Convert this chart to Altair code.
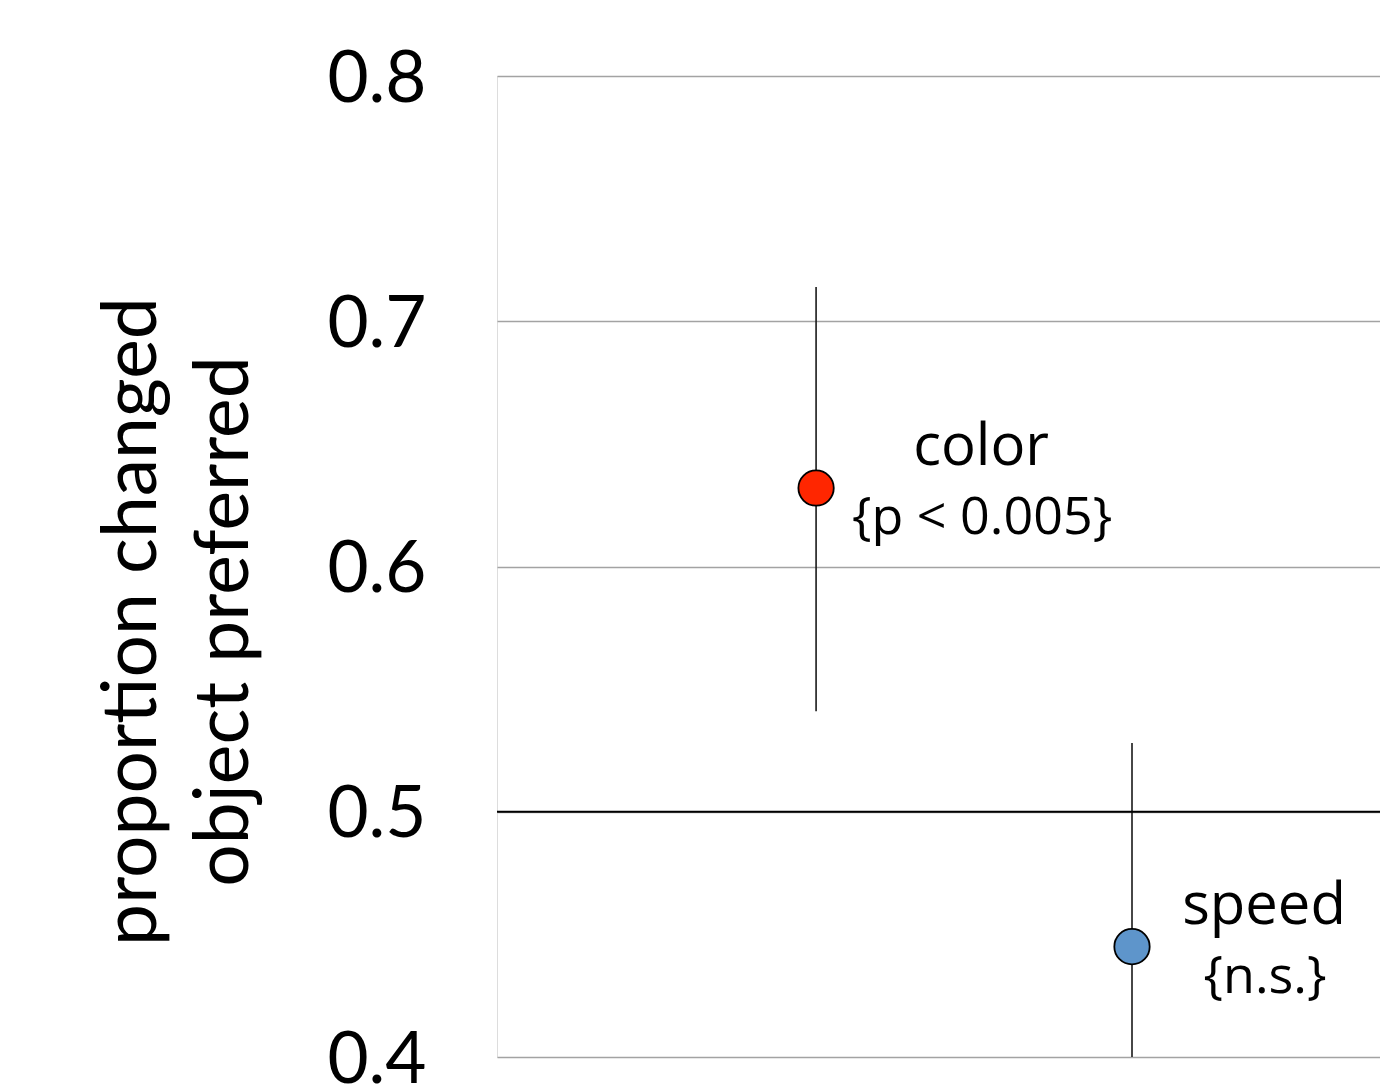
import altair as alt
import pandas as pd

# ---- data ----
conditions = ["color", "speed"]
slots = [1, 2]                     # category order along x
means = [0.632, 0.445]
upper = [0.714, 0.528]
lower = [0.541, 0.400]
pvalues = ["{p < 0.005}", "{n.s.}"]
point_colors = ["#FF2600", "#5E95CB"]
y_ticks = [0.4, 0.5, 0.6, 0.7, 0.8]
chance_level = [0.5]

df = pd.DataFrame({
    "cond": conditions,
    "slot": slots,
    "mean": means,
    "upper": upper,
    "lower": lower,
    "p": pvalues,
})
ref_df = pd.DataFrame({"level": chance_level})

x_scale = alt.Scale(domain=[-0.01, 2.785], nice=False, zero=False)
y_scale = alt.Scale(domain=[0.4, 0.8], nice=False, zero=False)

x_enc = alt.X("slot:Q", scale=x_scale, axis=None)

y_axis = alt.Axis(
    values=y_ticks,
    format=".1f",
    domain=False,
    ticks=False,
    tickSize=0,
    labelFont="Lato",
    labelFontSize=71,
    labelColor="#000000",
    labelPadding=71,
    labelOffset=4,
    grid=True,
    gridColor="#A3A3A3",
    gridWidth=1.3,
    title=["proportion changed", "object preferred"],
    titleFont="Lato",
    titleFontSize=75,
    titleFontWeight="normal",
    titleColor="#000000",
    titleAngle=270,
    titleAlign="center",
    titleBaseline="alphabetic",
    titleLineHeight=92,
    titleX=-342,
    titleY=545,
)

base = alt.Chart(df)

errbars = base.mark_rule(color="#1a1a1a", strokeWidth=1.6).encode(
    x=x_enc,
    y=alt.Y("lower:Q", scale=y_scale, axis=y_axis),
    y2="upper:Q",
)

chance = alt.Chart(ref_df).mark_rule(color="#000000", strokeWidth=2).encode(
    y=alt.Y("level:Q", scale=y_scale),
)

points = base.mark_point(
    filled=True, shape="circle", size=1250, stroke="#000000", strokeWidth=1.8, opacity=1
).encode(
    x=x_enc,
    y=alt.Y("mean:Q", scale=y_scale),
    fill=alt.Fill("cond:N", scale=alt.Scale(domain=conditions, range=point_colors), legend=None),
)

label_layers = []
label_dx = {"color": 165, "speed": 132}
for c in conditions:
    sub = base.transform_filter(alt.datum.cond == c)
    name = sub.mark_text(
        font="Open Sans", fontSize=58, color="#000000", align="center",
        baseline="alphabetic", dx=label_dx[c], dy=-23,
    ).encode(x=x_enc, y=alt.Y("mean:Q", scale=y_scale), text="cond:N")
    pv = sub.mark_text(
        font="Open Sans", fontSize=52, color="#000000", align="center",
        baseline="alphabetic", dx=label_dx[c] + 1, dy=46,
    ).encode(x=x_enc, y=alt.Y("mean:Q", scale=y_scale), text="p:N")
    label_layers += [name, pv]

chart = alt.layer(errbars, chance, points, *label_layers).properties(
    width=883,
    height=981,
    autosize=alt.AutoSizeParams(type="none"),
    padding={"left": 489, "top": 68, "right": 0, "bottom": 27},
).configure_view(
    stroke="transparent", strokeWidth=0
).configure_axis(
    domain=False, ticks=False
).configure(background="#ffffff")

chart.save("out.html", embed_options={"renderer": "svg", "actions": False})
